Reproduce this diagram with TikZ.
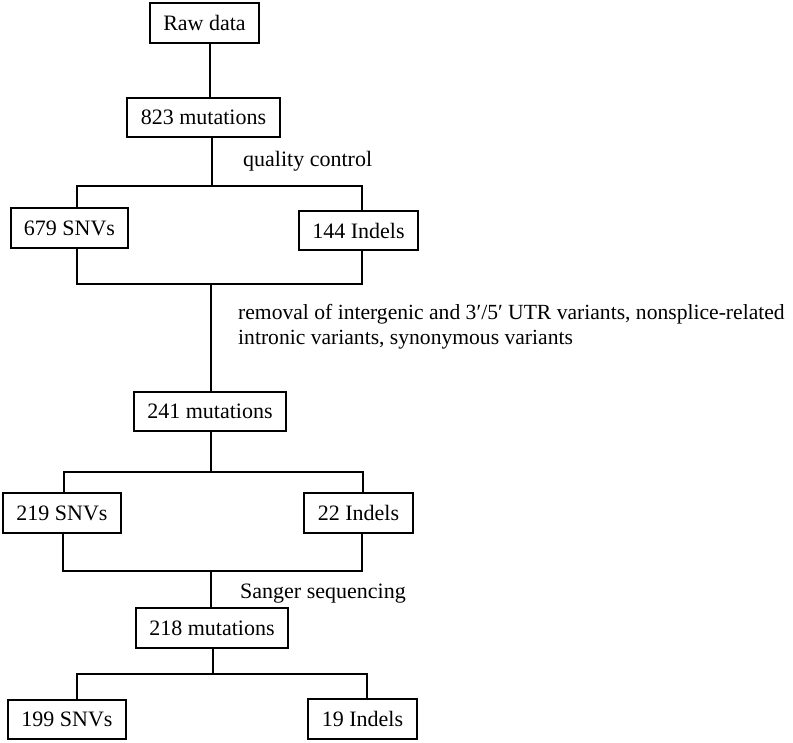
\documentclass[tikz,border=0pt]{standalone}
\usepackage{fontspec}
\setmainfont{Liberation Serif}
\begin{document}
\begin{tikzpicture}[x=1pt,y=-1pt,
  box/.style={draw,line width=1.3pt,inner sep=0pt,font=\fontsize{22}{25}\selectfont},
  lbl/.style={inner sep=0pt,anchor=base west,font=\fontsize{22}{25}\selectfont},
  conn/.style={line width=1.3pt}]
\useasboundingbox (0,0) rectangle (793,743);
% boxes
\node[box,minimum width=109pt,minimum height=40pt] (raw) at (204.5,23) {Raw data};
\node[box,minimum width=153pt,minimum height=39pt] (m823) at (203.5,117.5) {823 mutations};
\node[box,minimum width=117pt,minimum height=40pt] (snv679) at (69.5,228) {679 SNVs};
\node[box,minimum width=119pt,minimum height=39pt] (ind144) at (358.5,230.5) {144 Indels};
\node[box,minimum width=152pt,minimum height=39pt] (m241) at (210,411.5) {241 mutations};
\node[box,minimum width=118pt,minimum height=40pt] (snv219) at (62,513) {219 SNVs};
\node[box,minimum width=109pt,minimum height=40pt] (ind22) at (358.5,513) {22 Indels};
\node[box,minimum width=152pt,minimum height=40pt] (m218) at (212,628) {218 mutations};
\node[box,minimum width=118pt,minimum height=39pt] (snv199) at (67,719.5) {199 SNVs};
\node[box,minimum width=109pt,minimum height=40pt] (ind19) at (362.5,719) {19 Indels};
% labels
\node[lbl] (qc) at (243,167) {quality control};
\node[lbl,font=\fontsize{21.6}{25}\selectfont] (rem1) at (238,320) {removal of intergenic and 3\char"2032/5\char"2032{} UTR variants, nonsplice-related};
\node[lbl,font=\fontsize{21.6}{25}\selectfont] (rem2) at (238,345) {intronic variants, synonymous variants};
\node[lbl] (sanger) at (240,598) {Sanger sequencing};
% junction coordinates
\coordinate (j0) at (210,70);
\coordinate (b1) at (212,186);
\coordinate (b1l) at (77,186);
\coordinate (b1r) at (362,186);
\coordinate (b2) at (211,284);
\coordinate (b2l) at (77,284);
\coordinate (b2r) at (362,284);
\coordinate (b3) at (211,472);
\coordinate (b3l) at (64,472);
\coordinate (b3r) at (363,472);
\coordinate (b4) at (211,571);
\coordinate (b4l) at (63,571);
\coordinate (b4r) at (362,571);
\coordinate (b5) at (213,674);
\coordinate (b5l) at (77,674);
\coordinate (b5r) at (367,674);
% connectors
\draw[conn] (raw.south -| j0) -- (m823.north -| j0);
\draw[conn] (m823.south -| b1) -- (b1);
\draw[conn] (snv679.north -| b1l) -- (b1l) -- (b1r) -- (ind144.north -| b1r);
\draw[conn] (snv679.south -| b2l) -- (b2l) -- (b2r) -- (ind144.south -| b2r);
\draw[conn] (b2) -- (m241.north -| b2);
\draw[conn] (m241.south -| b3) -- (b3);
\draw[conn] (snv219.north -| b3l) -- (b3l) -- (b3r) -- (ind22.north -| b3r);
\draw[conn] (snv219.south -| b4l) -- (b4l) -- (b4r) -- (ind22.south -| b4r);
\draw[conn] (b4) -- (m218.north -| b4);
\draw[conn] (m218.south -| b5) -- (b5);
\draw[conn] (snv199.north -| b5l) -- (b5l) -- (b5r) -- (ind19.north -| b5r);
\end{tikzpicture}
\end{document}
